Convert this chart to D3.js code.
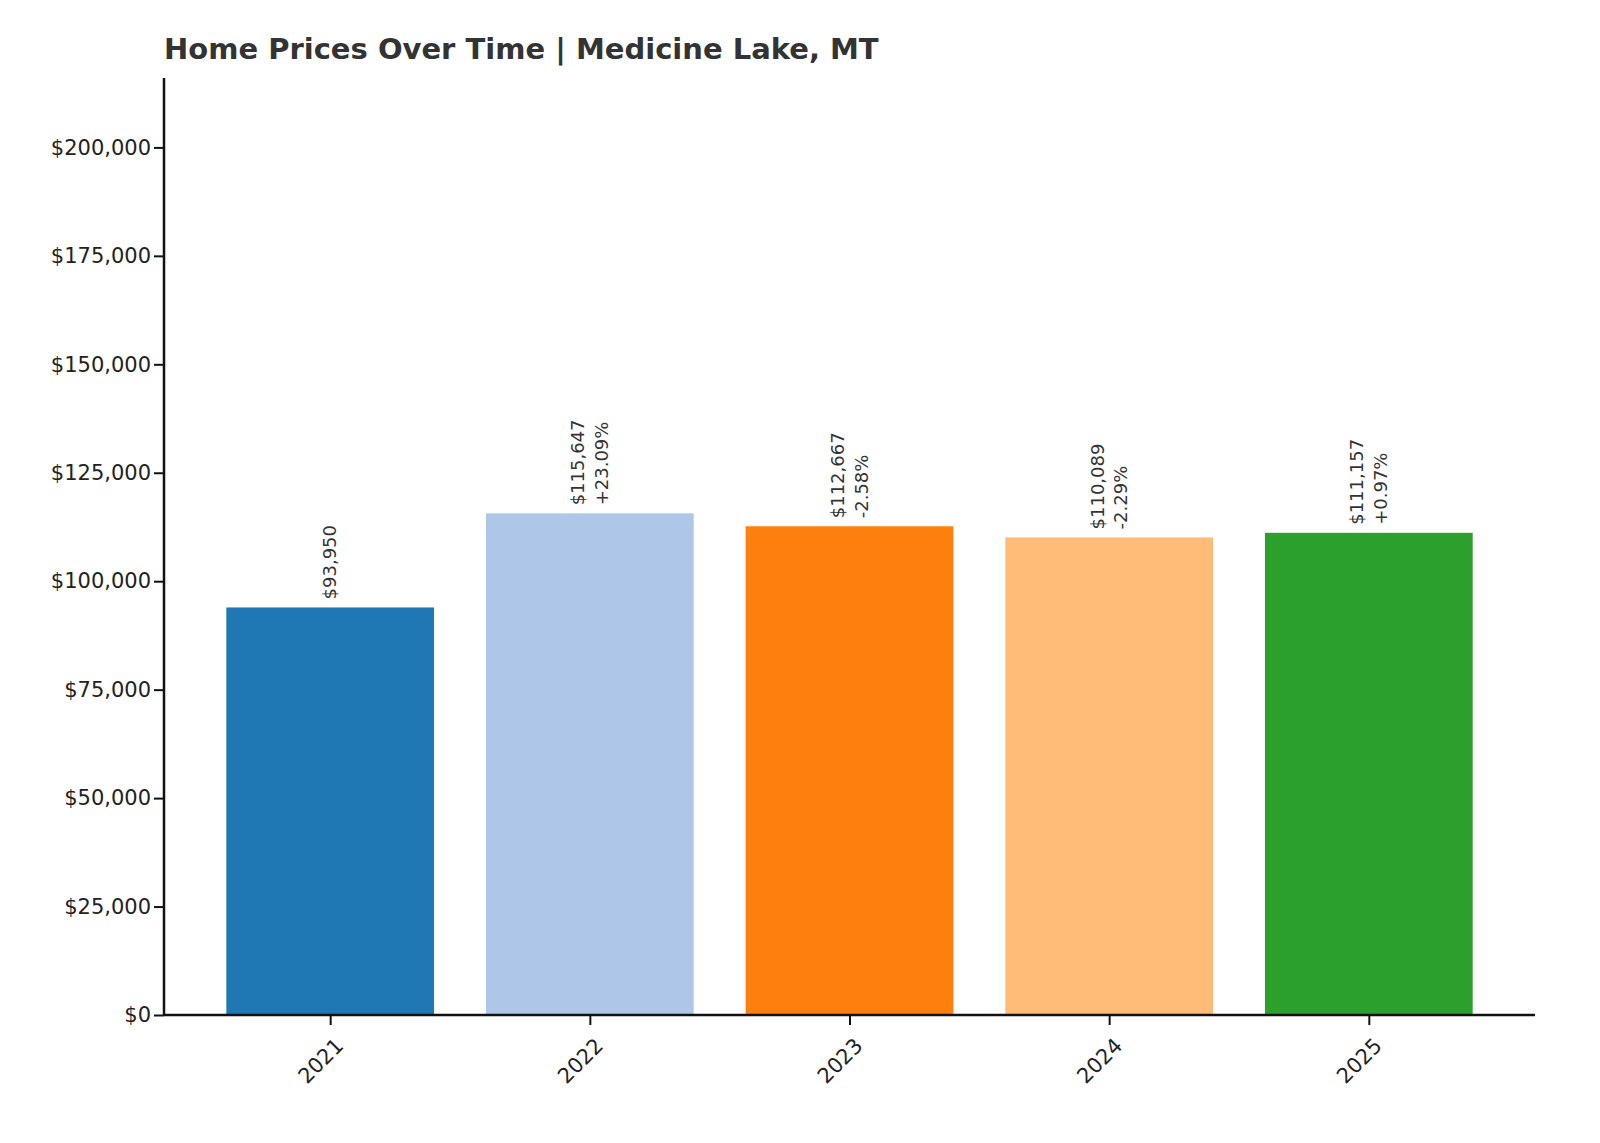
<!DOCTYPE html>
<html><head><meta charset="utf-8">
<script src="https://cdn.jsdelivr.net/npm/d3@7"></script>
<style>body{margin:0;background:#fff;font-family:"DejaVu Sans",sans-serif;}</style>
</head><body><svg></svg>
<script>
const years = ["2021", "2022", "2023", "2024", "2025"];
const prices = [93950, 115647, 112667, 110089, 111157];
const changes = [null, "+23.09%", "-2.58%", "-2.29%", "+0.97%"];
const colors = ["#1f77b4", "#aec7e8", "#ff7f0e", "#ffbb78", "#2ca02c"];
const yTicks = [0, 25000, 50000, 75000, 100000, 125000, 150000, 175000, 200000];

(function() {
const svg = d3.select("svg").attr("width", 1600).attr("height", 1143);
const pl = 164, pr = 1535, pt = 78, pb = 1015;

const xs = d3.scaleLinear().domain([-0.64, years.length - 0.36]).range([pl, pr]);
const ys = d3.scaleLinear().domain([0, 216000]).range([pb, pt]);
const bw = (xs(1) - xs(0)) * 0.8;

// bars
svg.selectAll("rect.bar").data(prices).enter().append("rect")
  .attr("x", (d, i) => xs(i) - bw / 2)
  .attr("y", d => ys(d))
  .attr("width", bw)
  .attr("height", d => pb - ys(d))
  .attr("fill", (d, i) => colors[i]);

// value labels
const fmt = d3.format(",");
svg.selectAll("text.lbl").data(prices).enter().append("text")
  .attr("transform", (d, i) => "translate(" + xs(i) + "," + (ys(d) - 8) + ") rotate(-90)")
  .attr("font-size", 18).attr("fill", "#333")
  .each(function(d, i) {
    const t = d3.select(this);
    if (changes[i] == null) {
      t.append("tspan").attr("x", 0).attr("dy", "0.35em").text("$" + fmt(d));
    } else {
      t.append("tspan").attr("x", 0).attr("dy", "-0.3em").text("$" + fmt(d));
      t.append("tspan").attr("x", 0).attr("dy", "1.3em").text(changes[i]);
    }
  });

// y axis
const ya = svg.append("g").attr("transform", "translate(" + pl + ",0)")
  .call(d3.axisLeft(ys).tickValues(yTicks).tickFormat(d => "$" + fmt(d)).tickSize(10).tickSizeOuter(0));
ya.select(".domain").attr("d", "M0," + pt + "V" + pb).attr("stroke", "#111").attr("stroke-width", 2.5);
ya.selectAll("line").attr("stroke", "#111").attr("stroke-width", 2);
ya.selectAll("text").attr("font-size", 21).attr("fill", "#222").attr("font-family", "DejaVu Sans").attr("x", -13);

// x axis
const xa = svg.append("g").attr("transform", "translate(0," + pb + ")")
  .call(d3.axisBottom(xs).tickValues(d3.range(years.length)).tickFormat(i => years[i]).tickSize(10).tickSizeOuter(0));
xa.select(".domain").attr("d", "M" + pl + ",0H" + pr).attr("stroke", "#111").attr("stroke-width", 2.5);
xa.selectAll("line").attr("stroke", "#111").attr("stroke-width", 2);
xa.selectAll("text").attr("font-size", 21).attr("fill", "#222").attr("font-family", "DejaVu Sans")
  .attr("text-anchor", "end").attr("dy", null).attr("y", 0)
  .attr("transform", "translate(14,32) rotate(-45)");

// title
svg.append("text").attr("x", 164).attr("y", 59).attr("font-size", 29).attr("font-weight", "bold")
  .attr("fill", "#333").text("Home Prices Over Time | Medicine Lake, MT");
})();
</script></body></html>
